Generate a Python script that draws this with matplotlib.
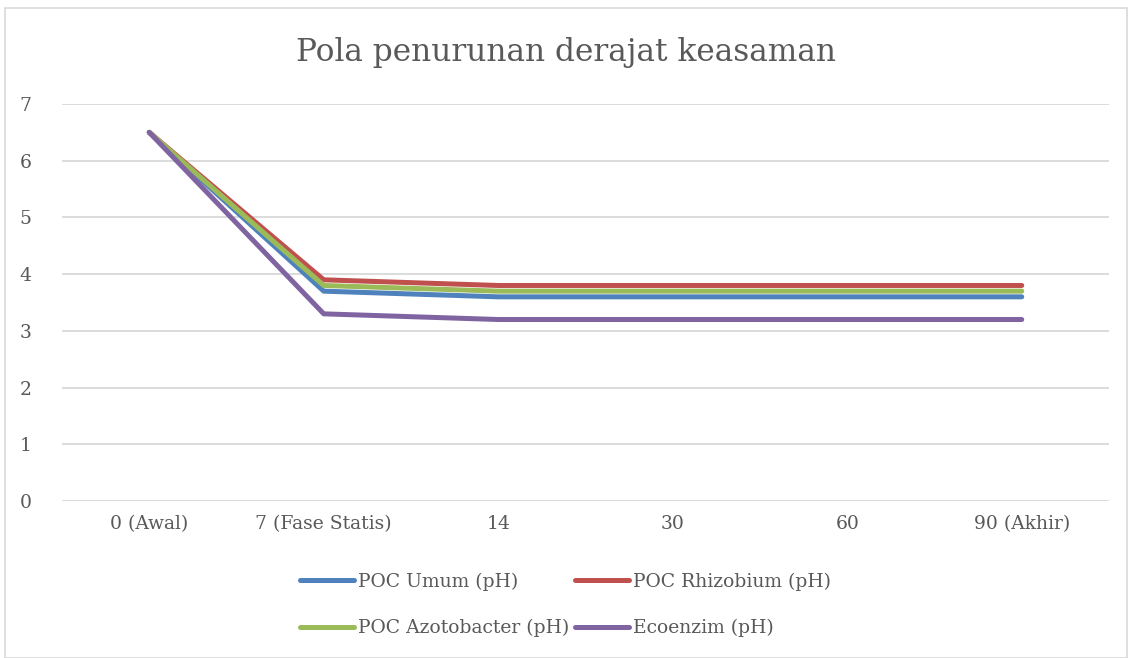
import matplotlib
matplotlib.use('Agg')
import matplotlib.pyplot as plt
from matplotlib.patches import Rectangle

# data
categories = ['0 (Awal)', '7 (Fase Statis)', '14', '30', '60', '90 (Akhir)']
poc_umum = [6.5, 3.7, 3.6, 3.6, 3.6, 3.6]
poc_rhizobium = [6.5, 3.9, 3.8, 3.8, 3.8, 3.8]
poc_azotobacter = [6.5, 3.8, 3.7, 3.7, 3.7, 3.7]
ecoenzim = [6.5, 3.3, 3.2, 3.2, 3.2, 3.2]

series_names = ['POC Umum (pH)', 'POC Rhizobium (pH)',
                'POC Azotobacter (pH)', 'Ecoenzim (pH)']
series_colors = ['#4f81bd', '#c0504d', '#9bbb59', '#8064a2']
y_ticks = [0, 1, 2, 3, 4, 5, 6, 7]

text_color = '#595959'
plt.rc('font', family='DejaVu Serif')

fig = plt.figure(figsize=(11.31, 6.58), dpi=100)
ax = fig.add_axes([62/1131, 1-501/658, (1109-62)/1131, (501-104)/658])

# chart border
fig.patches.append(Rectangle((5/1131, 0), 1122/1131, 1-8/658,
                             transform=fig.transFigure, fill=False,
                             edgecolor='#d9d9d9', linewidth=1.2))

x = list(range(len(categories)))
handles = []
for vals, name, col in zip([poc_umum, poc_rhizobium, poc_azotobacter, ecoenzim],
                           series_names, series_colors):
    h, = ax.plot(x, vals, color=col, linewidth=3.6, solid_capstyle='round',
                 solid_joinstyle='round', label=name)
    handles.append(h)

ax.set_xlim(-0.5, len(categories) - 0.5)
ax.set_ylim(0, 7)
ax.set_yticks(y_ticks)
ax.set_xticks(x)
ax.set_xticklabels(categories)
ax.tick_params(length=0, labelsize=13.5, colors=text_color)
ax.tick_params(axis='y', pad=22)
ax.tick_params(axis='x', pad=10)
ax.grid(axis='y', color='#d9d9d9', linewidth=1.3)
ax.set_axisbelow(True)
for s in ax.spines.values():
    s.set_visible(False)

fig.text(0.5, 1-52/658, 'Pola penurunan derajat keasaman', ha='center',
         va='center', fontsize=22.5, color=text_color)

# legend is filled row by row in the reference
order = [0, 2, 1, 3]
fig.legend(handles=[handles[i] for i in order],
           labels=[series_names[i] for i in order], ncol=2,
           loc='center', bbox_to_anchor=(0.5, 1-605/658), frameon=False,
           fontsize=13.5, labelcolor=text_color, handlelength=2.9,
           handletextpad=0.2, columnspacing=0.3, labelspacing=1.5)

fig.savefig('out.png', dpi=100)
